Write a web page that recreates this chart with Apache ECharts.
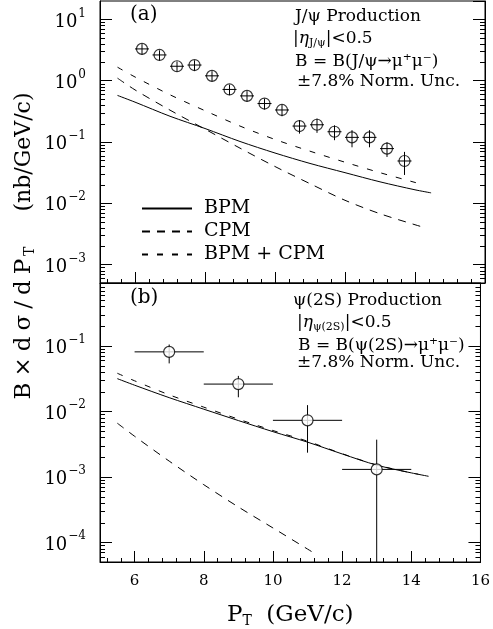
<!DOCTYPE html>
<html>
<head>
<meta charset="utf-8">
<title>J/psi and psi(2S) production</title>
<script src="https://cdn.jsdelivr.net/npm/echarts@6/dist/echarts.min.js"></script>
<style>
  html, body { margin: 0; padding: 0; background: #fff; }
  #main { width: 493px; height: 629px; }
</style>
</head>
<body>
<div id="main"></div>
<script>
// ---- panel (a): J/psi ----
var jpsiPt    = [6.2, 6.7, 7.2, 7.7, 8.2, 8.7, 9.2, 9.7, 10.2, 10.7, 11.2, 11.7, 12.2, 12.7, 13.2, 13.7];
var jpsiVal   = [3.3, 2.63, 1.72, 1.80, 1.20, 0.72, 0.565, 0.424, 0.333, 0.182, 0.191, 0.147, 0.119, 0.119, 0.078, 0.049];
var jpsiErr   = [0.65, 0.5, 0.33, 0.35, 0.23, 0.14, 0.11, 0.085, 0.07, 0.045, 0.05, 0.04, 0.037, 0.037, 0.021, 0.02];
var jpsiPtErr = 0.2;

var bpmPtA = [5.5, 6, 7, 8, 9, 10, 11, 12, 13, 14, 14.46];
var bpmA   = [0.575, 0.447, 0.263, 0.166, 0.102, 0.0661, 0.0447, 0.0316, 0.0224, 0.0166, 0.0148];
var cpmPtA = [5.5, 6, 7, 8, 9, 10, 11, 12, 13, 14, 14.3];
var cpmA   = [1.10, 0.708, 0.331, 0.162, 0.0794, 0.0398, 0.0209, 0.0112, 0.00676, 0.00447, 0.00398];
var sumPtA = [5.5, 6, 7, 8, 9, 10, 11, 12, 13, 14, 14.2];
var sumA   = [1.66, 1.15, 0.589, 0.324, 0.182, 0.110, 0.0708, 0.0468, 0.0316, 0.0219, 0.0204];

// ---- panel (b): psi(2S) ----
var psiPt    = [7, 9, 11, 13];
var psiVal   = [0.081, 0.0261, 0.0073, 0.0013];
var psiLo    = [0.054, 0.0164, 0.00234, 0];   // 0 = bar runs off the bottom
var psiHi    = [0.105, 0.0348, 0.01245, 0.0037];
var psiPtErr = 1;

var bpmPtB = [5.5, 6, 7, 8, 9, 10, 11, 12, 13, 14, 14.5];
var bpmB   = [0.0316, 0.0251, 0.0162, 0.0108, 0.00724, 0.0049, 0.00339, 0.00224, 0.00151, 0.00115, 0.00102];
var cpmPtB = [5.5, 6, 7, 8, 9, 10, 11, 11.24];
var cpmB   = [0.0066, 0.00417, 0.00174, 0.00076, 0.000347, 0.000166, 0.000079, 0.000066];
var sumPtB = [5.5, 6, 7, 8, 9, 10, 11, 12, 13, 14, 14.2];
var sumB   = [0.0382, 0.0293, 0.0179, 0.0116, 0.0076, 0.0051, 0.0035, 0.00226, 0.00152, 0.00115, 0.00110];

// log minor ticks (2..9 in every decade)
var minorMult = [2, 3, 4, 5, 6, 7, 8, 9];
var decadesA  = [-4, -3, -2, -1, 0, 1];
var decadesB  = [-5, -4, -3, -2, -1];

var xMin = 5, xMax = 16;
var yRangeA = [Math.pow(10, -3.3), Math.pow(10, 1.3)];
var yRangeB = [Math.pow(10, -4.3), Math.pow(10, -0.04)];

var SERIF = 'DejaVu Serif';

function zip(xs, ys) {
    return xs.map(function (x, i) { return [x, ys[i]]; });
}
function minorTicks(decades, range) {
    var out = [];
    decades.forEach(function (d) {
        minorMult.forEach(function (m) {
            var v = m * Math.pow(10, d);
            if (v > range[0] && v < range[1]) out.push([10, v]);
        });
    });
    return out;
}

function minorTickItem(params, api) {
    var cs = params.coordSys;
    var y = Math.round(api.coord([api.value(0), api.value(1)])[1]) + 0.5;
    return { type: 'group', children: [
        { type: 'line', shape: { x1: cs.x, y1: y, x2: cs.x + 5, y2: y }, style: { stroke: '#000', lineWidth: 1 } },
        { type: 'line', shape: { x1: cs.x + cs.width, y1: y, x2: cs.x + cs.width - 5, y2: y }, style: { stroke: '#000', lineWidth: 1 } }
    ]};
}

function errorBarItem(params, api) {
    var cs = params.coordSys;
    var x = api.value(0), y = api.value(1);
    var c = api.coord([x, y]);
    var l = api.coord([api.value(2), y]);
    var r = api.coord([api.value(3), y]);
    var top = api.coord([x, api.value(5)])[1];
    var lo = api.value(4);
    var bot = lo > 0 ? api.coord([x, lo])[1] : cs.y + cs.height;
    return { type: 'group', children: [
        { type: 'line', shape: { x1: l[0], y1: c[1], x2: r[0], y2: c[1] }, style: { stroke: '#000', lineWidth: 1 } },
        { type: 'line', shape: { x1: c[0], y1: top, x2: c[0], y2: bot }, style: { stroke: '#000', lineWidth: 1 } }
    ]};
}

var jpsiBars = jpsiPt.map(function (x, i) {
    return [x, jpsiVal[i], x - jpsiPtErr, x + jpsiPtErr, jpsiVal[i] - jpsiErr[i], jpsiVal[i] + jpsiErr[i]];
});
var psiBars = psiPt.map(function (x, i) {
    return [x, psiVal[i], x - psiPtErr, x + psiPtErr, psiLo[i], psiHi[i]];
});

function logLabel(v) {
    var e = Math.log10(v);
    var r = Math.round(e);
    if (Math.abs(e - r) > 1e-6) return '';
    return '{b|10}{s|' + (r < 0 ? '\u2212' + (-r) : r) + '}';
}
var logRich = {
    b: { fontFamily: SERIF, fontSize: 18, color: '#000', padding: [5, 0, 0, 0] },
    s: { fontFamily: SERIF, fontSize: 12, color: '#000', padding: [0, 0, 12, 1] }
};

function xAxisCfg(grid, labels) {
    return {
        gridIndex: grid, type: 'value', min: xMin, max: xMax, splitNumber: 6,
        axisLine: { show: true, lineStyle: { color: '#000', width: 1 } },
        axisTick: { show: true, inside: true, length: 11, lineStyle: { color: '#000' } },
        minorTick: { show: true, splitNumber: 5, length: 4, lineStyle: { color: '#000' } },
        splitLine: { show: false },
        axisLabel: labels ? {
            show: true, margin: 12, color: '#000', fontFamily: SERIF, fontSize: 15,
            showMinLabel: false
        } : { show: false },
        name: labels ? '{p|P}{t|T}{p|  (GeV/c)}' : '',
        nameLocation: 'middle', nameGap: 40,
        nameTextStyle: {
            rich: {
                p: { fontFamily: SERIF, fontSize: 23, color: '#000' },
                t: { fontFamily: SERIF, fontSize: 14, color: '#000', padding: [12, 0, 0, 0] }
            }
        }
    };
}
function yAxisCfg(grid, range, side) {
    return {
        gridIndex: grid, type: 'log', logBase: 10, min: range[0], max: range[1], position: side,
        axisLine: { show: true, lineStyle: { color: '#000', width: 1 } },
        axisTick: { show: true, inside: true, length: 12, lineStyle: { color: '#000' } },
        splitLine: { show: false },
        axisLabel: side === 'left' ? {
            show: true, margin: 14, formatter: logLabel, rich: logRich,
            showMinLabel: false, showMaxLabel: false
        } : { show: false }
    };
}

function lineSeries(name, xAxis, yAxis, xs, ys, dash) {
    return {
        name: name, type: 'line', xAxisIndex: xAxis, yAxisIndex: yAxis,
        data: zip(xs, ys), symbol: 'none', smooth: 0.3, silent: true,
        lineStyle: { color: '#000', width: 1, type: dash },
        itemStyle: { color: '#000' }, z: 3
    };
}

function txt(left, top, text, size, rich) {
    return {
        type: 'text', left: left, top: top,
        style: { text: text, font: size + 'px "' + SERIF + '"', fill: '#000', rich: rich }
    };
}
var subRich = {
    i: { fontFamily: SERIF, fontSize: 17, fontStyle: 'italic', color: '#000' },
    sub: { fontFamily: SERIF, fontSize: 11, color: '#000', padding: [10, 0, 0, 0] }
};

var myChart = echarts.init(document.getElementById('main'));
myChart.setOption({
    animation: false,
    backgroundColor: '#fff',
    grid: [
        { left: 100, top: 1, width: 385, height: 282, show: true, borderColor: '#000', borderWidth: 1 },
        { left: 100, top: 283, width: 385, height: 281, show: true, borderColor: '#000', borderWidth: 1 }
    ],
    xAxis: [xAxisCfg(0, false), xAxisCfg(1, true)],
    yAxis: [
        yAxisCfg(0, yRangeA, 'left'), yAxisCfg(0, yRangeA, 'right'),
        yAxisCfg(1, yRangeB, 'left'), yAxisCfg(1, yRangeB, 'right')
    ],
    legend: {
        left: 136, top: 194, orient: 'vertical', itemWidth: 50, itemHeight: 14, itemGap: 4,
        data: ['BPM', 'CPM', 'BPM + CPM'],
        itemStyle: { opacity: 0 },
        textStyle: { fontFamily: SERIF, fontSize: 19, color: '#000', padding: [0, 0, 0, 7] },
        selectedMode: false
    },
    series: [
        lineSeries('BPM', 0, 0, bpmPtA, bpmA, 'solid'),
        lineSeries('CPM', 0, 0, cpmPtA, cpmA, [8, 7]),
        lineSeries('BPM + CPM', 0, 0, sumPtA, sumA, [6, 9]),
        lineSeries('BPM', 1, 2, bpmPtB, bpmB, 'solid'),
        lineSeries('CPM', 1, 2, cpmPtB, cpmB, [8, 7]),
        lineSeries('BPM + CPM', 1, 2, sumPtB, sumB, [6, 9]),
        { type: 'custom', xAxisIndex: 0, yAxisIndex: 0, data: jpsiBars, renderItem: errorBarItem, silent: true, z: 4 },
        { type: 'custom', xAxisIndex: 1, yAxisIndex: 2, data: psiBars, renderItem: errorBarItem, silent: true, z: 4 },
        {
            type: 'scatter', xAxisIndex: 0, yAxisIndex: 0, data: zip(jpsiPt, jpsiVal),
            symbol: 'circle', symbolSize: 11, silent: true, z: 5,
            itemStyle: { color: 'rgba(0,0,0,0)', borderColor: '#000', borderWidth: 1.2 }
        },
        {
            type: 'scatter', xAxisIndex: 1, yAxisIndex: 2, data: zip(psiPt, psiVal),
            symbol: 'circle', symbolSize: 11, silent: true, z: 5,
            itemStyle: { color: '#fff', borderColor: '#000', borderWidth: 1.2 }
        },
        { type: 'custom', xAxisIndex: 0, yAxisIndex: 0, data: minorTicks(decadesA, yRangeA), renderItem: minorTickItem, silent: true, z: 6 },
        { type: 'custom', xAxisIndex: 1, yAxisIndex: 2, data: minorTicks(decadesB, yRangeB), renderItem: minorTickItem, silent: true, z: 6 }
    ],
    graphic: [
        txt(130, 5, '(a)', 20),
        txt(130, 288, '(b)', 20),
        txt(295, 8, 'J/\u03c8 Production', 17),
        txt(293, 30, '|{i|\u03b7}{sub|J/\u03c8}|<0.5', 17, subRich),
        txt(295, 53, 'B = B(J/\u03c8\u2192\u03bc\u207a\u03bc\u207b)', 17),
        txt(297, 73, '\u00b17.8% Norm. Unc.', 17),
        txt(293, 292, '\u03c8(2S) Production', 17),
        txt(297, 314, '|{i|\u03b7}{sub|\u03c8(2S)}|<0.5', 17, subRich),
        txt(298, 337, 'B = B(\u03c8(2S)\u2192\u03bc\u207a\u03bc\u207b)', 17),
        txt(297, 354, '\u00b17.8% Norm. Unc.', 17),
        {
            type: 'text', x: 24, y: 323, rotation: Math.PI / 2,
            style: {
                text: '{a|B}{a|\u00d7}{a|d}{a|\u03c3}{a|/}{a|d}{a|P}{t|T}',
                align: 'center', verticalAlign: 'middle',
                rich: {
                    a: { fontFamily: SERIF, fontSize: 23, color: '#000', padding: [0, 3, 0, 3] },
                    t: { fontFamily: SERIF, fontSize: 14, color: '#000', padding: [12, 3, 0, 0] }
                }
            }
        },
        {
            type: 'text', x: 24, y: 152, rotation: Math.PI / 2,
            style: {
                text: '(nb/GeV/c)', align: 'center', verticalAlign: 'middle',
                font: '22px "' + SERIF + '"', fill: '#000'
            }
        }
    ]
});
</script>
</body>
</html>
